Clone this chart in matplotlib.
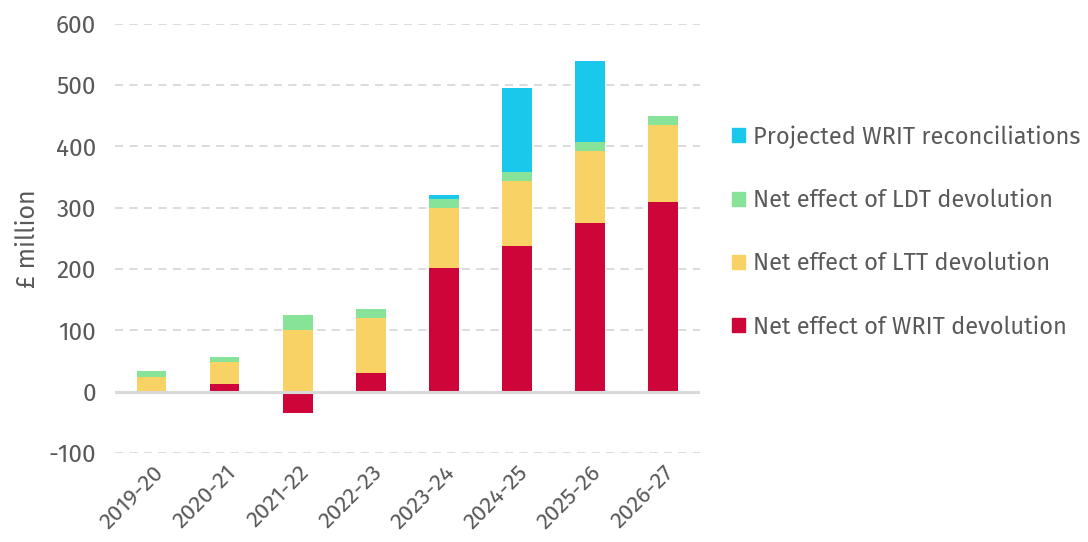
import numpy as np
import matplotlib.pyplot as plt
from matplotlib.patches import Patch

plt.rcParams['font.family'] = ['Fira Sans', 'Noto Sans', 'DejaVu Sans']
plt.rcParams['axes.unicode_minus'] = False

years = ["2019-20", "2020-21", "2021-22", "2022-23", "2023-24", "2024-25", "2025-26", "2026-27"]
writ = [0, 13, -35, 30, 202, 238, 276, 309]
ltt = [24, 35, 100, 91, 98, 105, 116, 126]
ldt = [10, 8, 25, 14, 14, 15, 16, 14]
recon = [0, 0, 0, 0, 7, 137, 131, 0]

c_writ, c_ltt, c_ldt, c_recon = '#CE0538', '#F8D264', '#86E397', '#1AC8EC'
grey = '#595959'

fig = plt.figure(figsize=(10.88, 5.42), dpi=100)
ax = fig.add_axes([0.106, 0.164, 0.537, 0.792])

x = np.arange(len(years))
w = 0.4
writ = np.array(writ)
ltt = np.array(ltt)
ldt = np.array(ldt)
recon = np.array(recon)

# stack positives upwards; the negative WRIT bar goes below zero
pos_writ = np.clip(writ, 0, None)
ax.bar(x, writ, w, color=c_writ, zorder=3)
ax.bar(x, ltt, w, bottom=pos_writ, color=c_ltt, zorder=3)
ax.bar(x, ldt, w, bottom=pos_writ + ltt, color=c_ldt, zorder=3)
ax.bar(x, recon, w, bottom=pos_writ + ltt + ldt, color=c_recon, zorder=3)

ax.set_ylim(-100, 600)
ax.set_xlim(-0.5, 7.5)
ax.set_yticks(np.arange(-100, 601, 100))
ax.yaxis.grid(True, linestyle=(0, (4.5, 3.5)), color='#d9d9d9', linewidth=1.3, zorder=0)
ax.axhline(0, color='#d9d9d9', linewidth=2.2, zorder=4)
for s in ax.spines.values():
    s.set_visible(False)
ax.tick_params(length=0, labelsize=17.5, colors=grey)
ax.tick_params(axis='y', pad=14)
ax.tick_params(axis='x', pad=6, labelsize=16.5)
ax.set_xticks(x)
ax.set_xticklabels(years, rotation=45, ha='right', rotation_mode='anchor')
ax.set_ylabel('£ million', fontsize=18, color=grey, labelpad=6)

handles = [Patch(color=c_recon), Patch(color=c_ldt), Patch(color=c_ltt), Patch(color=c_writ)]
labels = ["Projected WRIT reconciliations", "Net effect of LDT devolution",
          "Net effect of LTT devolution", "Net effect of WRIT devolution"]
leg = fig.legend(handles, labels, loc='upper left', bbox_to_anchor=(0.673, 0.769),
                 frameon=False, fontsize=17, handlelength=0.55, handleheight=0.55,
                 handletextpad=0.35, labelspacing=1.7, labelcolor=grey,
                 borderaxespad=0, borderpad=0)

fig.savefig('out.png', dpi=100)
